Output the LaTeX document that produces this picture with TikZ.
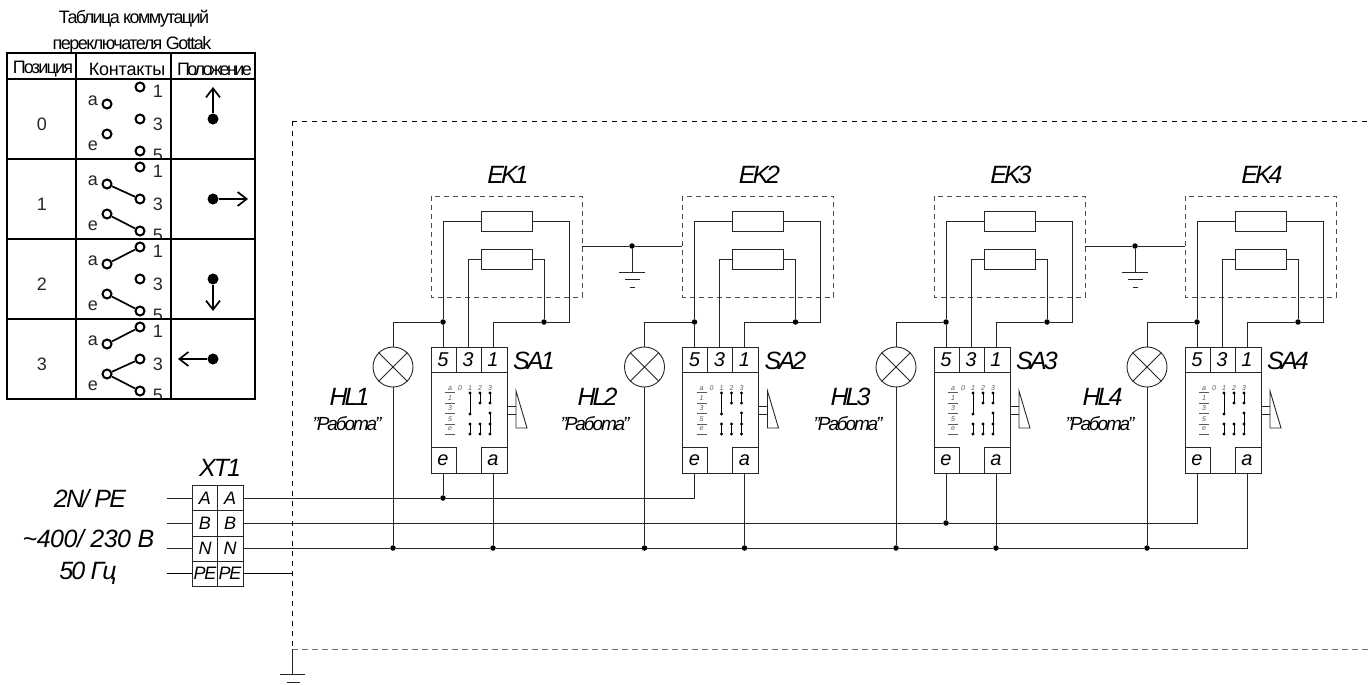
\documentclass[tikz,border=0pt]{standalone}
\usepackage{fontspec}
\setmainfont{Liberation Sans}
\usetikzlibrary{arrows.meta}
\newcommand{\fsz}[1]{\fontsize{#1}{#1}\selectfont}
\newcommand{\ls}[1]{\addfontfeature{LetterSpace=#1}}
\tikzset{
  x=1pt,y=-1pt,
  wire/.style={line width=0.9pt,black!85},
  tbl/.style={line width=1.7pt,black},
  dashbox/.style={line width=1pt,black!70,dash pattern=on 5pt off 4pt},
  frametop/.style={line width=0.8pt,black,dash pattern=on 5pt off 5pt},
  framebot/.style={line width=1pt,black!55,dash pattern=on 6pt off 4pt},
  jun/.style={circle,fill=black,inner sep=0pt,minimum size=5.5pt},
  cont/.style={circle,draw=black,line width=2pt,fill=white,inner sep=0pt,minimum size=9pt},
  big/.style={inner sep=0pt,font=\fsz{25}\itshape},
  term/.style={inner sep=0pt,font=\fsz{20}\itshape},
  xtxt/.style={inner sep=0pt,font=\fsz{18}\itshape},
  mini/.style={inner sep=0pt,font=\fsz{7}\itshape,black!65},
  say/.style={inner sep=0pt,font=\fsz{19}\itshape},
  ttl/.style={inner sep=0pt,font=\fsz{18}},
  cell/.style={inner sep=0pt,font=\fsz{18},black!85},
  res/.style={draw,line width=0.9pt,black!85,fill=white,minimum width=51pt,minimum height=20pt,inner sep=0pt},
  lamp/.style={draw,circle,line width=0.9pt,black!85,minimum size=40pt,inner sep=0pt},
  arr/.style={line width=1.7pt,-{Straight Barb[length=9pt,width=14pt,line width=1.7pt]}},
  posdot/.style={circle,fill=black,inner sep=0pt,minimum size=11pt},
  mdot/.style={circle,fill=black,inner sep=0pt,minimum size=3.2pt},
  mbar/.style={line width=0.9pt,black!65},
  mlink/.style={line width=0.9pt,black},
  gnd/.style={line width=0.9pt,black!85}
}
\begin{document}
\begin{tikzpicture}
\useasboundingbox (0,0) rectangle (1370,685);
% ---------- table
\node[ttl] (t1) at (134,19) {\ls{-9}Таблица коммутаций};
\node[ttl] (t2) at (132,45) {\ls{-8.5}переключателя Gottak};
\node[ttl] (h1) at (43,69) {\ls{-10}Позиция};
\node[ttl] (h2) at (127,69) {\ls{-1}Контакты};
\node[ttl] (h3) at (214.5,69) {\ls{-14}Положение};
\foreach \r/\n in {0/0,80/1,160/2,240/3}{
  \node[cell] (pos\n) at (42,124+\r) {\n};
  \node[cell] (la\n) at (93,101+\r) {a};
  \node[cell] (le\n) at (93,146+\r) {e};
  \node[cell] (l1\n) at (158,91+\r) {1};
  \node[cell] (l3\n) at (158,124+\r) {3};
  \node[cell] (l5\n) at (158,155+\r) {5};
  \fill[white] (148,159+\r) rectangle (170,165+\r);
  \node[cont] (a\n) at (107,104+\r) {};
  \node[cont] (e\n) at (107,134+\r) {};
  \node[cont] (c1\n) at (140,87+\r) {};
  \node[cont] (c3\n) at (140,119+\r) {};
  \node[cont] (c5\n) at (140,151+\r) {};
}
\draw[tbl] (7,53) rectangle (255,399);
\draw[tbl] (76,53)--(76,399) (171,53)--(171,399);
\draw[tbl] (7,79)--(255,79) (7,159)--(255,159) (7,239)--(255,239) (7,319)--(255,319);
\draw[tbl] (a1)--(c31) (e1)--(c51) (a2)--(c12) (e2)--(c52) (a3)--(c13) (e3)--(c33) (e3)--(c53);
\node[posdot] (d0) at (213,119) {};
\node[posdot] (d1) at (213,199) {};
\node[posdot] (d2) at (213,279) {};
\node[posdot] (d3) at (213,359) {};
\coordinate (p0) at (213,87);
\coordinate (p1) at (248,199);
\coordinate (p2) at (213,311);
\coordinate (p3) at (178,359);
\foreach \n in {0,1,2,3} \draw[arr] (d\n)--(p\n);
% ---------- frame
\coordinate (fa) at (292,121);
\coordinate (fb) at (292,649);
\coordinate (fc) at (1370,121);
\coordinate (fd) at (1370,649);
\draw[frametop] (fa)--(fc);
\draw[frametop] (fa)--(fb);
\draw[framebot] (fb)--(fd);
% ---------- units
\foreach \i/\dx/\adj in {1/0/0,2/251.5/-3.5,3/503/-2,4/754/-1}{
\begin{scope}[xshift=\dx pt]
  \draw[dashbox] (431,196) rectangle (582,297);
  \node[res] (ra\i) at (506.5,221) {};
  \node[res] (rb\i) at (506.5,259) {};
  \node[big] (ek\i) at (508,175) {\ls{-12}EK\i};
  \node[lamp] (hl\i) at (393,367) {};
  \draw[wire] (hl\i.north west)--(hl\i.south east) (hl\i.north east)--(hl\i.south west);
  \node[jun] (jl\i) at (443,322) {};
  \node[jun] (jr\i) at (544,322) {};
  \draw[wire,fill=white] (431,347) rectangle (507,473);
  \draw[wire] (431,372)--(507,372) (456,347)--(456,372) (481,347)--(481,372);
  \draw[wire] (456,473)--(456,447)--(431,447) (481,473)--(481,447)--(507,447);
  \coordinate (t5\i) at (443,347);
  \coordinate (t3\i) at (468,347);
  \coordinate (t1\i) at (493,347);
  \coordinate (te\i) at (443,473);
  \coordinate (ta\i) at (493,473);
  \node[term] (n5\i) at (443,360) {5};
  \node[term] (n3\i) at (468,360) {3};
  \node[term] (n1\i) at (493,360) {1};
  \node[term] (ne\i) at (443,460) {e};
  \node[term] (na\i) at (493,460) {a};
  \node[big] (sa\i) at (534,361) {\ls{-11}SA\i};
  \node[big] (hlt\i) at (349.5+\adj,397) {\ls{-12}HL\i};
  \node[say] (rab\i) at (347+\adj,424) {\ls{-11}"Работа"};
  \draw[wire] (ra\i.west) -| (jl\i) -- (t5\i);
  \draw[wire] (jl\i) -| (hl\i.north);
  \draw[wire] (rb\i.west) -| (t3\i);
  \draw[wire] (rb\i.east) -| (jr\i);
  \draw[wire] (ra\i.east) -| (569,322) -- (jr\i) -- (493,322) -- (t1\i);
  % internal contact table
  \foreach \y/\t in {388.5/a,398.5/1,408.5/3,419/5,429/e}
    \node[mini] at (450,\y) {\t};
  \foreach \y in {392,403,413,424,434}
    \draw[mbar] (445,\y)--(455,\y);
  \foreach \xx/\t in {460/0,470/1,480/2,490/3}
    \node[mini] at (\xx,388.5) {\t};
  \foreach \xx/\ya/\yb in {470/393/414,480/393/403,490/393/403,470/424/434,480/424/434,490/413/434}{
    \draw[mlink] (\xx,\ya)--(\xx,\yb);
    \node[mdot] at (\xx,\ya) {};
    \node[mdot] at (\xx,\yb) {};
  }
  \node[mdot] at (490,424) {};
  % lever
  \draw[wire] (507,406)--(516,406) (507,414)--(516,414);
  \draw[wire] (516,391)--(527,428)--(516,428)--cycle;
\end{scope}
}
% ---------- earth links between heaters
\foreach \k/\dx in {1/0,3/503}{
\begin{scope}[xshift=\dx pt]
  \node[jun] (ge\k) at (632,246) {};
  \coordinate (gl\k) at (582,246);
  \coordinate (gb\k) at (632,272);
  \draw[wire] (gl\k)--(ge\k)--(682,246) (ge\k)--(gb\k);
  \draw[gnd] (619,272)--(645,272) (625,279)--(640,279) (630,287)--(635,287);
\end{scope}
}
% ---------- XT1
\draw[wire] (192,485) rectangle (243,586);
\draw[wire] (217.5,485)--(217.5,586) (192,510.5)--(243,510.5) (192,536)--(243,536) (192,561)--(243,561);
\node[big] (xt) at (220,468) {\ls{-8}XT1};
\foreach \y/\t in {498/A,523/B,548/N}{
  \node[xtxt] (xl\t) at (205,\y) {\t};
  \node[xtxt] (xr\t) at (230,\y) {\t};
  \coordinate (il\t) at (167,\y);
  \coordinate (ol\t) at (192,\y);
  \coordinate (or\t) at (243,\y);
  \draw[wire] (il\t)--(ol\t);
}
\node[xtxt] (xlP) at (205,573) {\ls{-8}PE};
\node[xtxt] (xrP) at (230,573) {\ls{-8}PE};
\coordinate (ilP) at (167,573); \coordinate (olP) at (192,573);
\coordinate (orP) at (243,573); \coordinate (frP) at (292,573);
\draw[wire,black] (ilP)--(olP) (orP)--(frP);
\node[big] (in1) at (90,499) {\ls{-7}2N/ PE};
\node[big] (in2) at (88.5,539) {\ls{-2}\string~400/ 230 B};
\node[big] (in3) at (88,573) {\ls{-7}50 Гц};
% ---------- buses
\node[jun] (ja) at (te1|-orA) {};
\node[jun] (jb) at (te3|-orB) {};
\draw[wire] (te1)--(ja);
\draw[wire] (orA)--(ja)-|(te2);
\draw[wire] (te3)--(jb);
\draw[wire] (orB)--(jb)-|(te4);
\node[jun] (jna) at (hl1|-orN) {};
\node[jun] (jnb) at (ta1|-orN) {};
\node[jun] (jnc) at (hl2|-orN) {};
\node[jun] (jnd) at (ta2|-orN) {};
\node[jun] (jne) at (hl3|-orN) {};
\node[jun] (jnf) at (ta3|-orN) {};
\node[jun] (jng) at (hl4|-orN) {};
\draw[wire] (orN)--(jna)--(jnb)--(jnc)--(jnd)--(jne)--(jnf)--(jng)-|(ta4);
\draw[wire] (hl1.south)--(jna);
\draw[wire] (hl2.south)--(jnc);
\draw[wire] (hl3.south)--(jne);
\draw[wire] (hl4.south)--(jng);
\draw[wire] (ta1)--(jnb);
\draw[wire] (ta2)--(jnd);
\draw[wire] (ta3)--(jnf);
% ---------- main earth
\coordinate (mg) at (292,674);
\draw[wire] (fb)--(mg);
\draw[gnd] (280,674)--(305,674) (287,682)--(300,682);
\end{tikzpicture}
\end{document}
